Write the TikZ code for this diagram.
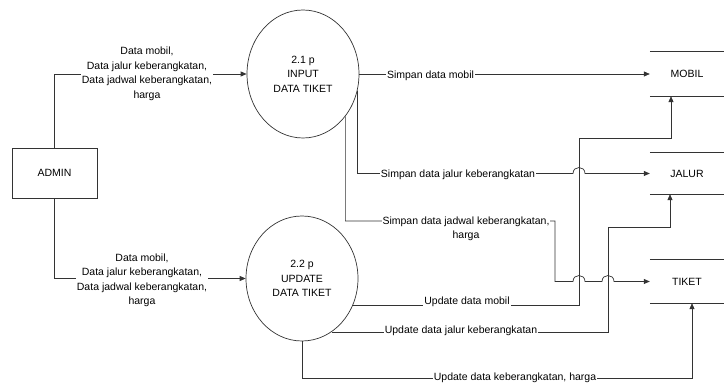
\documentclass[tikz,border=0pt]{standalone}
\usepackage{fontspec}
\setmainfont{Liberation Sans}
\usetikzlibrary{shapes.geometric, arrows.meta}

\begin{document}
\begin{tikzpicture}[x=1pt, y=-1pt,
    font=\fontsize{10.5}{14.5}\selectfont,
    garis/.style={draw=black!80, line width=0.7pt},
    alir/.style={garis, -{Triangle[length=6pt,width=5pt]}},
    entitas/.style={rectangle, garis, minimum width=85pt, minimum height=50pt},
    proses/.style={ellipse, garis, align=center, minimum width=112pt, inner sep=0pt},
    simpanan/.style={rectangle, minimum width=74pt, inner sep=0pt},
    lbl/.style={fill=white, inner sep=1pt, align=center}]
  \useasboundingbox (0,0) rectangle (724,387);

  % entitas, proses dan data store
  \node[entitas] (admin) at (54.5,173) {ADMIN};
  \node[proses, minimum height=128pt] (p21) at (303,74) {2.1 p\\INPUT\\DATA TIKET};
  \node[proses, minimum height=125pt] (p22) at (302,278.5) {2.2 p\\UPDATE\\DATA TIKET};
  \node[simpanan, minimum height=44pt] (mobil) at (687,74) {MOBIL};
  \node[simpanan, minimum height=41pt] (jalur) at (687,173.5) {JALUR};
  \node[simpanan, minimum height=43pt] (tiket) at (687,281.5) {TIKET};
  \foreach \s in {mobil,jalur,tiket}
    \draw[garis] (\s.north west) -- (\s.north east) (\s.south west) -- (\s.south east);

  % ADMIN ke proses
  \draw[alir] (admin.north) |- (p21.west);
  \draw[alir] (admin.south) |- (p22.west);
  \node[lbl] at (147,74) {Data mobil,\\Data jalur keberangkatan,\\Data jadwal keberangkatan,\\harga};
  \node[lbl] at (142,280.5) {Data mobil,\\Data jalur keberangkatan,\\Data jadwal keberangkatan,\\harga};

  % simpan dari 2.1
  \draw[alir] (p21.east) -- node[lbl, pos=0.245, yshift=-2pt] {Simpan data mobil} (mobil.west);
  \draw[alir] (p21.-17) |- (573,173.5) .. controls (573,165.5) and (585,165.5) .. (585,173.5)
    -- (jalur.west);
  \node[lbl] at (458,175) {Simpan data jalur keberangkatan};
  \draw[alir] (p21.-45) |- (555,221) -- (555,281.5) -- (573,281.5)
    .. controls (573,273.5) and (585,273.5) .. (585,281.5) -- (602,281.5)
    .. controls (602,273.5) and (614,273.5) .. (614,281.5) -- (tiket.west);
  \node[lbl] at (466,229) {Simpan data jadwal keberangkatan,\\harga};

  % update dari 2.2
  \draw[alir] (p22.-28) -| (579,138) -| ([xshift=-16pt]mobil.south);
  \node[lbl] at (467,302) {Update data mobil};
  \draw[alir] (p22.-61) -| (608,227) -| ([xshift=-17pt]jalur.south);
  \node[lbl] at (461,331) {Update data jalur keberangkatan};
  \draw[alir] (p22.south) |- (692,378) -- ([xshift=5pt]tiket.south);
  \node[lbl] at (515,378) {Update data keberangkatan, harga};
\end{tikzpicture}
\end{document}
